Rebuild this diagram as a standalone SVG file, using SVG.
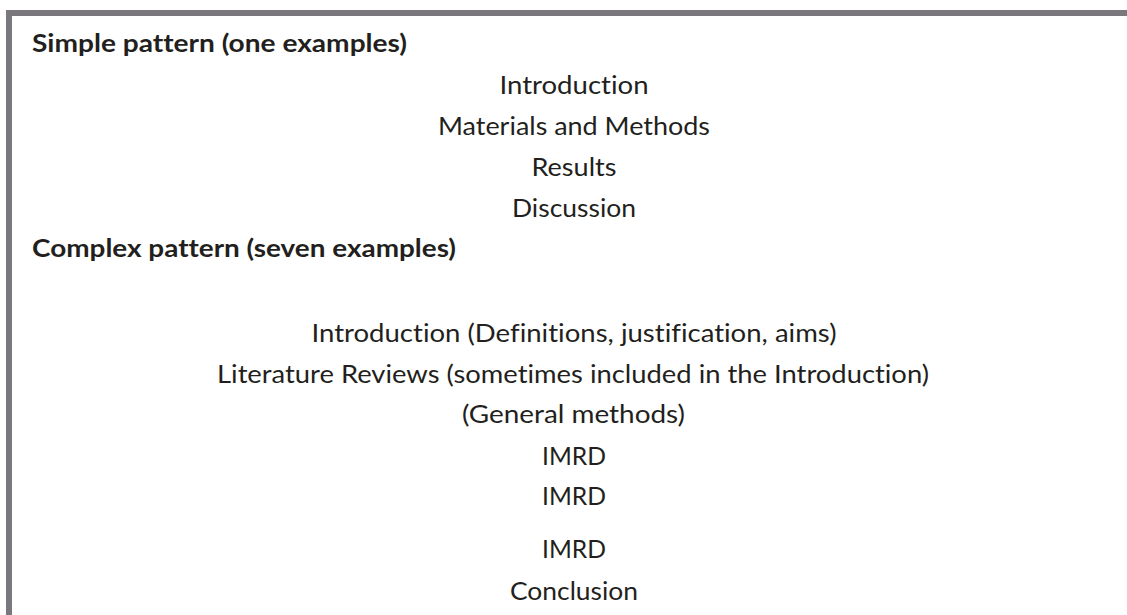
<svg xmlns="http://www.w3.org/2000/svg" width="1127" height="615" viewBox="0 0 1127 615">
  <style>
    text { font-family: Lato, "Open Sans", "Liberation Sans", sans-serif; font-size: 25.5px; fill: #231f20; font-variant-ligatures: none; font-feature-settings: "liga" 0, "clig" 0; }
    .h { font-weight: bold; }
    .c { text-anchor: middle; }
  </style>
  <rect x="0" y="0" width="1127" height="615" fill="#ffffff"/>
  <rect id="frame" x="9" y="13" width="1130" height="620" fill="#ffffff" stroke="#7a787c" stroke-width="6"/>
  <g id="simple">
    <text class="h" x="32" y="52" textLength="375" lengthAdjust="spacingAndGlyphs">Simple pattern (one examples)</text>
    <text class="c" x="574" y="94" textLength="149" lengthAdjust="spacingAndGlyphs">Introduction</text>
    <text class="c" x="574" y="135" textLength="272" lengthAdjust="spacingAndGlyphs">Materials and Methods</text>
    <text class="c" x="574" y="175.5" textLength="85" lengthAdjust="spacingAndGlyphs">Results</text>
    <text class="c" x="574" y="216.5" textLength="124" lengthAdjust="spacingAndGlyphs">Discussion</text>
  </g>
  <g id="complex">
    <text class="h" x="32" y="257" textLength="424" lengthAdjust="spacingAndGlyphs">Complex pattern (seven examples)</text>
    <text class="c" x="574" y="342" textLength="525" lengthAdjust="spacingAndGlyphs">Introduction (Definitions, justification, aims)</text>
    <text class="c" x="573" y="383" textLength="712" lengthAdjust="spacingAndGlyphs">Literature Reviews (sometimes included in the Introduction)</text>
    <text class="c" x="573.5" y="423" textLength="223" lengthAdjust="spacingAndGlyphs">(General methods)</text>
    <text class="c" x="574" y="465" textLength="64" lengthAdjust="spacingAndGlyphs">IMRD</text>
    <text class="c" x="574" y="505" textLength="64" lengthAdjust="spacingAndGlyphs">IMRD</text>
    <text class="c" x="574" y="558" textLength="64" lengthAdjust="spacingAndGlyphs">IMRD</text>
    <text class="c" x="574" y="600" textLength="128" lengthAdjust="spacingAndGlyphs">Conclusion</text>
  </g>
</svg>
